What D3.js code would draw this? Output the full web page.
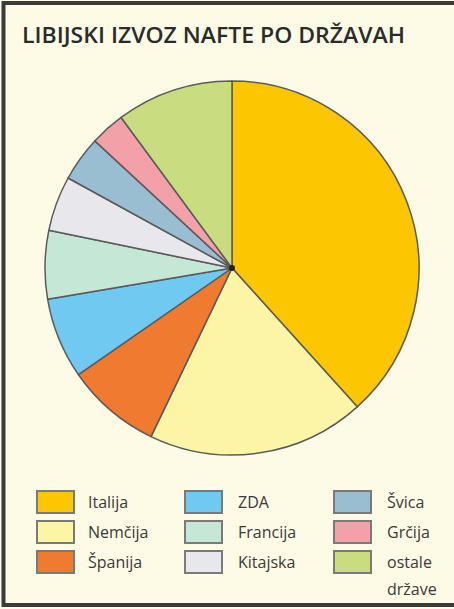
<!DOCTYPE html>
<html><head><meta charset="utf-8">
<script src="https://cdn.jsdelivr.net/npm/d3@7"></script>
<style>
html,body{margin:0;padding:0;background:#fff;}
svg{display:block;}
</style></head>
<body>
<svg id="chart" width="454" height="609"></svg>
<script>
const title = "LIBIJSKI IZVOZ NAFTE PO DRŽAVAH";
const categories = ["Italija","Nemčija","Španija","ZDA","Francija","Kitajska","Švica","Grčija","ostale države"];
const values = [38.3, 18.8, 8.2, 7.0, 5.9, 4.75, 3.9, 3.0, 10.1];
const colors = ["#fcc600","#fdf5a6","#ef7a30","#6fc9f0","#c5e7d5","#e8e8ec","#99bdd1","#f2a1a9","#c9dd80"];
const legendOrder = [0,1,2,3,4,5,6,7,8];

const svg = d3.select("#chart");
svg.append("rect").attr("x",0).attr("y",0).attr("width",454).attr("height",609).attr("fill","#fdfbe6");
// frame
svg.append("rect").attr("x",3.5).attr("y",3).attr("width",460).attr("height",602)
  .attr("fill","none").attr("stroke","#3a3a3a").attr("stroke-width",4);

svg.append("text").attr("x",22).attr("y",43).text(title)
  .attr("font-family","'Open Sans', sans-serif").attr("font-weight",600)
  .attr("font-size",22).attr("fill","#2b2b2b").attr("textLength",383).attr("lengthAdjust","spacingAndGlyphs");

const data = categories.map((c,i)=>({name:c,value:values[i],color:colors[i]}));
const pie = d3.pie().sort(null).value(d=>d.value);
const arc = d3.arc().innerRadius(0).outerRadius(187);
const g = svg.append("g").attr("transform","translate(232,268)");
g.selectAll("path").data(pie(data)).join("path")
  .attr("d",arc).attr("fill",d=>d.data.color)
  .attr("stroke","#5a5a5a").attr("stroke-width",1.5).attr("stroke-linejoin","round");
g.append("circle").attr("r",3).attr("fill","#222");

// legend
const colX = [37,185,334], textX=[88,238,387];
const rowY = [491,521,551];
const lg = svg.append("g");
legendOrder.forEach((idx,k)=>{
  const col = Math.floor(k/3), row = k%3;
  lg.append("rect").attr("x",colX[col]).attr("y",rowY[row]).attr("width",37).attr("height",22)
    .attr("fill",colors[idx]).attr("stroke","#7a7a7a").attr("stroke-width",2);
  const words = categories[idx]==="ostale države" ? ["ostale","države"] : [categories[idx]];
  const t = lg.append("text").attr("x",textX[col]).attr("y",rowY[row]+17)
    .attr("font-family","'Open Sans', sans-serif").attr("font-size",16).attr("fill","#3a3a3a");
  words.forEach((w,j)=>t.append("tspan").attr("x",textX[col]).attr("dy",j?27:0).text(w));
});
</script>
</body></html>
